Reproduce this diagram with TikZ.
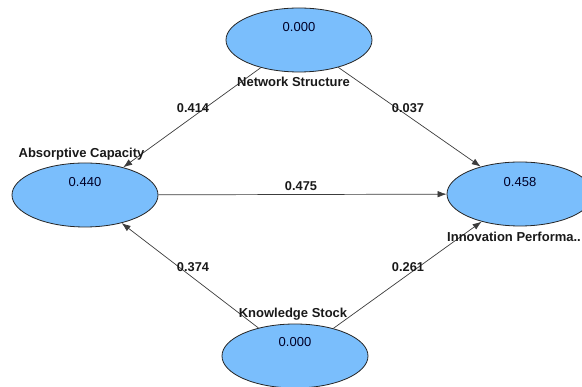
\documentclass[tikz,border=0pt]{standalone}
\usepackage{fontspec}
\setmainfont{Liberation Sans}
\usetikzlibrary{shapes.geometric,arrows.meta}
\definecolor{lvfill}{RGB}{122,190,252}
\definecolor{edgec}{RGB}{60,60,60}
\tikzset{
  lv/.style={ellipse,draw=black!85,line width=0.8pt,fill=lvfill,inner sep=0pt,minimum width=146pt,minimum height=64pt},
  lvval/.style={font=\fontsize{13}{15}\selectfont,text=black!85!blue,inner sep=0pt},
  lvname/.style={font=\fontsize{13}{15}\selectfont\bfseries,text=black!90,inner sep=0pt},
  coef/.style={font=\fontsize{12.8}{15}\selectfont\bfseries,text=black!90,inner sep=0pt},
  pathline/.style={draw=edgec,line width=0.7pt,-{Latex[length=9pt,width=6.5pt]}}
}
\begin{document}
\begin{tikzpicture}[x=1pt,y=-1pt]
\useasboundingbox (0,0) rectangle (582,387);
\node[lv] (ns) at (299,40) {};
\node[lv] (ac) at (85,195) {};
\node[lv] (ip) at (520,194) {};
\node[lv] (ks) at (295,356) {};
\path[pathline] (ns) -- (ac);
\path[pathline] (ns) -- (ip);
\path[pathline] (ac) -- (ip);
\path[pathline] (ks) -- (ac);
\path[pathline] (ks) -- (ip);
\node[lvval] (nsv) at (299,27) {0.000};
\node[lvval] (acv) at (85,182) {0.440};
\node[lvval] (ipv) at (520,182) {0.458};
\node[lvval] (ksv) at (295,342) {0.000};
\node[lvname] (nsn) at (293.5,82) {Network Structure};
\node[lvname] (acn) at (81.5,154) {Absorptive Capacity};
\node[lvname,anchor=west] (ipn) at (447,237) {Innovation Performa..};
\node[lvname] (ksn) at (293,314) {Knowledge Stock};
\node[coef] (c1) at (193,108) {0.414};
\node[coef] (c2) at (408,108) {0.037};
\node[coef] (c3) at (301,186) {0.475};
\node[coef] (c4) at (193,267) {0.374};
\node[coef] (c5) at (408,267) {0.261};
\end{tikzpicture}
\end{document}
